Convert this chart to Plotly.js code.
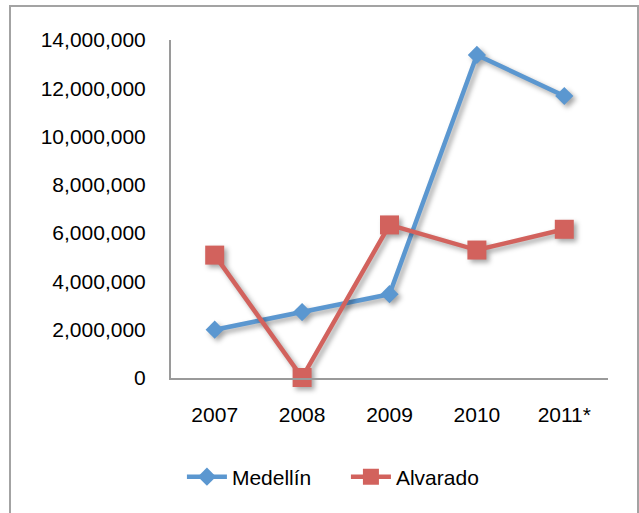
<!DOCTYPE html>
<html>
<head>
<meta charset="utf-8">
<script src="https://cdn.plot.ly/plotly-3.0.1.min.js"></script>
<style>
  html, body { margin: 0; padding: 0; background: #fff; }
  #wrap { position: relative; width: 639px; height: 513px; overflow: hidden; }
  #chart { position: absolute; left: 0; top: 0; width: 639px; height: 513px; }
  #frame { position: absolute; left: 9px; top: 5px; width: 626px; height: 530px;
           border: 2px solid #a3a3a3; pointer-events: none; }
  .scatterlayer .trace { filter: drop-shadow(3px 3px 2.5px rgba(0,0,0,0.35)); }
</style>
</head>
<body>
<div id="wrap">
  <div id="chart"></div>
  <div id="frame"></div>
</div>
<script>
const years = ["2007", "2008", "2009", "2010", "2011*"];
const medellin = [2000000, 2730000, 3470000, 13380000, 11680000];
const alvarado = [5090000, 20000, 6340000, 5300000, 6160000];
const yTicks = [0, 2000000, 4000000, 6000000, 8000000, 10000000, 12000000, 14000000];
const yTickText = ["0", "2,000,000", "4,000,000", "6,000,000", "8,000,000", "10,000,000", "12,000,000", "14,000,000"];

const font = { family: "Liberation Sans, Arial, sans-serif", size: 21, color: "#000" };

const traces = [
  {
    x: years, y: medellin, name: "Medellín", type: "scatter", mode: "lines+markers",
    line: { color: "#5b97d0", width: 4.5 },
    marker: { symbol: "diamond", size: 14, color: "#5b97d0" },
    cliponaxis: false
  },
  {
    x: years, y: alvarado, name: "Alvarado", type: "scatter", mode: "lines+markers",
    line: { color: "#d2625d", width: 4.5 },
    marker: { symbol: "square", size: 19, color: "#d2625d" },
    cliponaxis: false
  }
];

const layout = {
  width: 639, height: 513,
  margin: { l: 171, r: 31, t: 40, b: 135 },
  paper_bgcolor: "rgba(0,0,0,0)", plot_bgcolor: "rgba(0,0,0,0)",
  font: font,
  showlegend: true,
  legend: {
    orientation: "h", x: 0.025, xanchor: "left", y: -0.293, yanchor: "middle",
    font: font, itemwidth: 40, traceorder: "normal",
    entrywidth: 109, entrywidthmode: "pixels"
  },
  xaxis: {
    type: "category", range: [-0.5, 4.5],
    showline: true, linecolor: "#9a9a9a", linewidth: 2,
    showgrid: false, zeroline: false,
    ticks: "outside", ticklen: 17, tickcolor: "rgba(0,0,0,0)",
    tickfont: font
  },
  yaxis: {
    range: [0, 14000000],
    tickvals: yTicks, ticktext: yTickText,
    showline: true, linecolor: "#9a9a9a", linewidth: 2,
    showgrid: false, zeroline: false,
    ticks: "outside", ticklen: 19, tickcolor: "rgba(0,0,0,0)",
    tickfont: font
  }
};

Plotly.newPlot("chart", traces, layout, { staticPlot: true });
</script>
</body>
</html>
